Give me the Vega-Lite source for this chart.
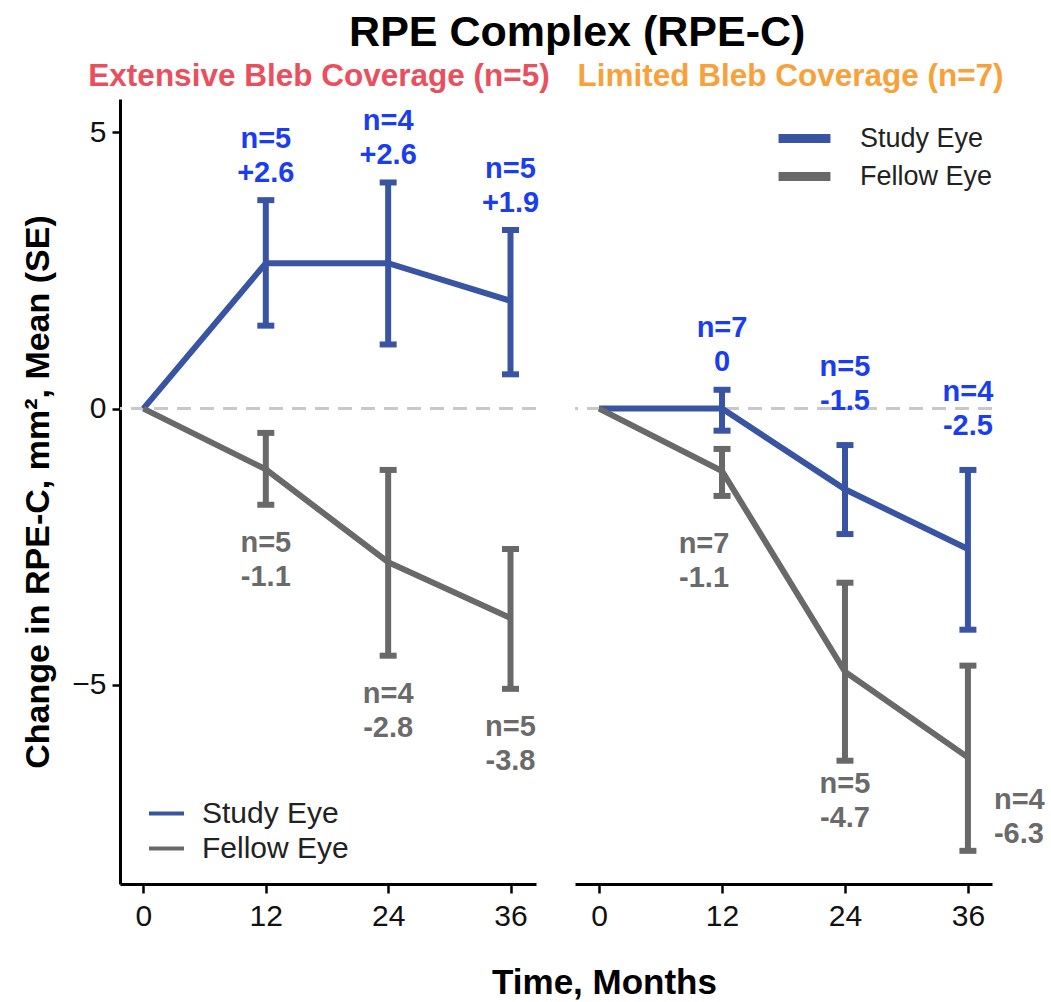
{
  "$schema": "https://vega.github.io/schema/vega-lite/v6.json",
  "background": "white",
  "padding": {"left": 21, "top": 11, "right": 4, "bottom": 0},
  "title": {"text": "RPE Complex (RPE-C)", "fontSize": 43, "font": "Liberation Sans", "fontWeight": "bold", "color": "#000000", "anchor": "middle", "offset": 6, "dx": 44},
  "data": {"values": [
    {"panel": "Extensive", "eye": "Study Eye", "month": 0, "mean": 0, "lo": null, "hi": null, "label": null},
    {"panel": "Extensive", "eye": "Study Eye", "month": 12, "mean": 2.63, "lo": 1.50, "hi": 3.77, "label": "n=5\n+2.6"},
    {"panel": "Extensive", "eye": "Study Eye", "month": 24, "mean": 2.63, "lo": 1.16, "hi": 4.09, "label": "n=4\n+2.6"},
    {"panel": "Extensive", "eye": "Study Eye", "month": 36, "mean": 1.95, "lo": 0.62, "hi": 3.23, "label": "n=5\n+1.9"},
    {"panel": "Extensive", "eye": "Fellow Eye", "month": 0, "mean": 0, "lo": null, "hi": null, "label": null},
    {"panel": "Extensive", "eye": "Fellow Eye", "month": 12, "mean": -1.10, "lo": -1.74, "hi": -0.44, "label": "n=5\n-1.1"},
    {"panel": "Extensive", "eye": "Fellow Eye", "month": 24, "mean": -2.78, "lo": -4.47, "hi": -1.11, "label": "n=4\n-2.8"},
    {"panel": "Extensive", "eye": "Fellow Eye", "month": 36, "mean": -3.79, "lo": -5.07, "hi": -2.54, "label": "n=5\n-3.8"},
    {"panel": "Limited", "eye": "Study Eye", "month": 0, "mean": 0, "lo": null, "hi": null, "label": null},
    {"panel": "Limited", "eye": "Study Eye", "month": 12, "mean": 0.0, "lo": -0.40, "hi": 0.34, "label": "n=7\n0"},
    {"panel": "Limited", "eye": "Study Eye", "month": 24, "mean": -1.46, "lo": -2.27, "hi": -0.66, "label": "n=5\n-1.5"},
    {"panel": "Limited", "eye": "Study Eye", "month": 36, "mean": -2.54, "lo": -4.00, "hi": -1.11, "label": "n=4\n-2.5"},
    {"panel": "Limited", "eye": "Fellow Eye", "month": 0, "mean": 0, "lo": null, "hi": null, "label": null},
    {"panel": "Limited", "eye": "Fellow Eye", "month": 12, "mean": -1.13, "lo": -1.58, "hi": -0.73, "label": "n=7\n-1.1"},
    {"panel": "Limited", "eye": "Fellow Eye", "month": 24, "mean": -4.76, "lo": -6.37, "hi": -3.15, "label": "n=5\n-4.7"},
    {"panel": "Limited", "eye": "Fellow Eye", "month": 36, "mean": -6.31, "lo": -8.00, "hi": -4.65, "label": "n=4\n-6.3"}
  ]},
  "spacing": 39,
  "bounds": "flush",
  "resolve": {"legend": {"color": "independent"}, "scale": {"x": "independent", "y": "independent"}},
  "hconcat": [
    {
      "width": 416,
      "height": 785,
      "title": {"text": "Extensive Bleb Coverage (n=5)", "color": "#ea4f5d", "fontSize": 31.5, "fontWeight": "bold", "font": "Liberation Sans", "offset": 7, "dx": -9},
      "transform": [{"filter": "datum.panel == 'Extensive'"}],
      "layer": [
        {
          "mark": {"type": "rule", "color": "#c8c8c8", "strokeWidth": 3, "strokeDash": [14, 9]},
          "encoding": {"y": {"datum": 0, "type": "quantitative", "title": "Change in RPE-C, mm², Mean (SE)"}}
        },
        {
          "mark": {"type": "line", "strokeWidth": 6},
          "encoding": {
            "x": {"field": "month", "type": "quantitative", "title": null, "scale": {"domain": [-2.3, 38.5], "nice": false, "zero": false}, "axis": {"values": [0, 12, 24, 36]}},
            "y": {"field": "mean", "type": "quantitative", "title": "Change in RPE-C, mm², Mean (SE)", "scale": {"domain": [-8.6, 5.6], "nice": false, "zero": false}, "axis": {"values": [-5, 0, 5]}},
            "color": {"field": "eye", "type": "nominal", "scale": {"domain": ["Study Eye", "Fellow Eye"], "range": ["#3a54a4", "#696969"]},
              "legend": {"title": null, "orient": "none", "legendX": 27, "legendY": 695, "symbolType": "stroke", "symbolSize": 1225, "symbolStrokeWidth": 4, "symbolOpacity": 1, "labelFontSize": 30, "labelColor": "#222222", "labelOffset": 16, "rowPadding": 0, "padding": 0}}
          }
        },
        {
          "transform": [{"filter": "datum.month > 0"}],
          "mark": {"type": "errorbar", "rule": {"strokeWidth": 6, "opacity": 1}, "ticks": {"size": 17, "thickness": 6, "opacity": 1}},
          "encoding": {
            "x": {"field": "month", "type": "quantitative", "title": null},
            "y": {"field": "lo", "type": "quantitative", "title": "Change in RPE-C, mm², Mean (SE)"},
            "y2": {"field": "hi"},
            "color": {"field": "eye", "type": "nominal"}
          }
        },
        {
          "transform": [{"filter": "datum.eye == 'Study Eye' && datum.month > 0"}],
          "mark": {"type": "text", "fontSize": 29, "fontWeight": "bold", "color": "#1a3df0", "baseline": "bottom", "align": "center", "dy": -46, "lineBreak": "\n", "lineHeight": 34},
          "encoding": {
            "x": {"field": "month", "type": "quantitative", "title": null},
            "y": {"field": "hi", "type": "quantitative", "title": "Change in RPE-C, mm², Mean (SE)"},
            "text": {"field": "label"}
          }
        },
        {
          "transform": [{"filter": "datum.eye == 'Fellow Eye' && datum.month > 0"}],
          "mark": {"type": "text", "fontSize": 29, "fontWeight": "bold", "color": "#6a6a6a", "baseline": "top", "align": "center", "dy": 24, "lineBreak": "\n", "lineHeight": 34},
          "encoding": {
            "x": {"field": "month", "type": "quantitative", "title": null},
            "y": {"field": "lo", "type": "quantitative", "title": "Change in RPE-C, mm², Mean (SE)"},
            "text": {"field": "label"}
          }
        }
      ]
    },
    {
      "width": 417,
      "height": 785,
      "title": {"text": "Limited Bleb Coverage (n=7)", "color": "#f8a13a", "fontSize": 31.5, "fontWeight": "bold", "font": "Liberation Sans", "offset": 7, "dx": 7},
      "transform": [{"filter": "datum.panel == 'Limited'"}],
      "layer": [
        {
          "mark": {"type": "rule", "color": "#c8c8c8", "strokeWidth": 3, "strokeDash": [14, 9]},
          "encoding": {"y": {"datum": 0, "type": "quantitative", "axis": null}}
        },
        {
          "mark": {"type": "line", "strokeWidth": 6},
          "encoding": {
            "x": {"field": "month", "type": "quantitative", "title": "Time, Months", "scale": {"domain": [-2.35, 38.35], "nice": false, "zero": false}, "axis": {"values": [0, 12, 24, 36], "titleX": 29, "titleAnchor": "middle"}},
            "y": {"field": "mean", "type": "quantitative", "axis": null, "scale": {"domain": [-8.6, 5.6], "nice": false, "zero": false}},
            "color": {"field": "eye", "type": "nominal", "scale": {"domain": ["Study Eye", "Fellow Eye"], "range": ["#3a54a4", "#696969"]},
              "legend": {"title": null, "orient": "none", "legendX": 210, "legendY": 20, "symbolType": "M-1.73,0H1.73", "symbolSize": 900, "symbolStrokeWidth": 9, "symbolOpacity": 1, "labelFontSize": 27, "labelColor": "#222222", "labelOffset": 36, "rowPadding": -2, "padding": 0}}
          }
        },
        {
          "transform": [{"filter": "datum.month > 0"}],
          "mark": {"type": "errorbar", "rule": {"strokeWidth": 6, "opacity": 1}, "ticks": {"size": 17, "thickness": 6, "opacity": 1}},
          "encoding": {
            "x": {"field": "month", "type": "quantitative", "title": "Time, Months"},
            "y": {"field": "lo", "type": "quantitative", "axis": null},
            "y2": {"field": "hi"},
            "color": {"field": "eye", "type": "nominal"}
          }
        },
        {
          "transform": [{"filter": "datum.eye == 'Study Eye' && datum.month == 12"}],
          "mark": {"type": "text", "fontSize": 29, "fontWeight": "bold", "color": "#1a3df0", "baseline": "bottom", "align": "center", "dy": -47, "lineBreak": "\n", "lineHeight": 34},
          "encoding": {
            "x": {"field": "month", "type": "quantitative", "title": "Time, Months"},
            "y": {"field": "hi", "type": "quantitative", "axis": null},
            "text": {"field": "label"}
          }
        },
        {
          "transform": [{"filter": "datum.eye == 'Study Eye' && datum.month > 12"}],
          "mark": {"type": "text", "fontSize": 29, "fontWeight": "bold", "color": "#1a3df0", "baseline": "bottom", "align": "center", "dy": -63, "lineBreak": "\n", "lineHeight": 34},
          "encoding": {
            "x": {"field": "month", "type": "quantitative", "title": "Time, Months"},
            "y": {"field": "hi", "type": "quantitative", "axis": null},
            "text": {"field": "label"}
          }
        },
        {
          "transform": [{"filter": "datum.eye == 'Fellow Eye' && datum.month == 12"}],
          "mark": {"type": "text", "fontSize": 29, "fontWeight": "bold", "color": "#6a6a6a", "baseline": "top", "align": "center", "dy": 34, "dx": -18, "lineBreak": "\n", "lineHeight": 34},
          "encoding": {
            "x": {"field": "month", "type": "quantitative", "title": "Time, Months"},
            "y": {"field": "lo", "type": "quantitative", "axis": null},
            "text": {"field": "label"}
          }
        },
        {
          "transform": [{"filter": "datum.eye == 'Fellow Eye' && datum.month == 24"}],
          "mark": {"type": "text", "fontSize": 29, "fontWeight": "bold", "color": "#6a6a6a", "baseline": "top", "align": "center", "dy": 9, "lineBreak": "\n", "lineHeight": 34},
          "encoding": {
            "x": {"field": "month", "type": "quantitative", "title": "Time, Months"},
            "y": {"field": "lo", "type": "quantitative", "axis": null},
            "text": {"field": "label"}
          }
        },
        {
          "transform": [{"filter": "datum.eye == 'Fellow Eye' && datum.month == 36"}],
          "mark": {"type": "text", "fontSize": 29, "fontWeight": "bold", "color": "#6a6a6a", "baseline": "top", "align": "left", "dy": 29, "dx": 26, "lineBreak": "\n", "lineHeight": 34},
          "encoding": {
            "x": {"field": "month", "type": "quantitative", "title": "Time, Months"},
            "y": {"field": "mean", "type": "quantitative", "axis": null},
            "text": {"field": "label"}
          }
        }
      ]
    }
  ],
  "config": {
    "font": "Liberation Sans",
    "view": {"stroke": null},
    "axis": {"grid": false, "domainColor": "#000000", "domainWidth": 3, "tickColor": "#000000", "tickWidth": 2.5, "labelFontSize": 30, "labelColor": "#111111", "labelFont": "Liberation Sans", "titleFont": "Liberation Sans", "titleFontWeight": "bold", "titleColor": "#000000"},
    "axisX": {"tickSize": 9, "labelPadding": 8, "titleFontSize": 35, "titlePadding": 34},
    "axisY": {"tickSize": 8, "labelPadding": 6, "titleFontSize": 34, "titlePadding": 16}
  }
}
